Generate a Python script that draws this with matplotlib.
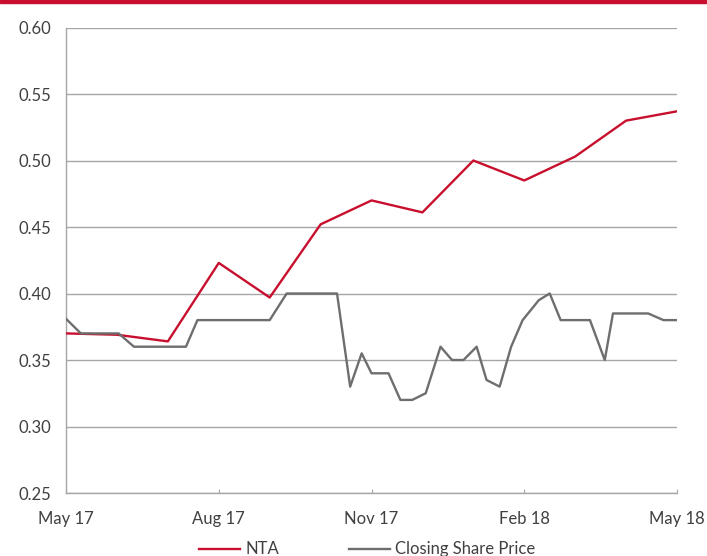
import matplotlib
matplotlib.use("Agg")
import matplotlib.pyplot as plt
import pandas as pd

# --- data ---
nta_dates = ["2017-05-01", "2017-06-01", "2017-07-01", "2017-08-01", "2017-09-01",
             "2017-10-01", "2017-11-01", "2017-12-01", "2018-01-01", "2018-02-01",
             "2018-03-01", "2018-04-01", "2018-05-01"]
nta_values = [0.370, 0.369, 0.364, 0.423, 0.397, 0.452, 0.470, 0.461, 0.500,
              0.485, 0.503, 0.530, 0.537]

price_dates = ["2017-05-01", "2017-05-10", "2017-06-02", "2017-06-11", "2017-07-12",
               "2017-07-19", "2017-09-01", "2017-09-11", "2017-10-11", "2017-10-19",
               "2017-10-26", "2017-11-01", "2017-11-11", "2017-11-18", "2017-11-25",
               "2017-12-03", "2017-12-12", "2017-12-19", "2017-12-26", "2018-01-03",
               "2018-01-09", "2018-01-17", "2018-01-24", "2018-01-31", "2018-02-09",
               "2018-02-15", "2018-02-21", "2018-03-10", "2018-03-19", "2018-03-24",
               "2018-04-14", "2018-04-23", "2018-05-01"]
price_values = [0.381, 0.370, 0.370, 0.360, 0.360, 0.380, 0.380, 0.400, 0.400, 0.330,
                0.355, 0.340, 0.340, 0.320, 0.320, 0.325, 0.360, 0.350, 0.350, 0.360,
                0.335, 0.330, 0.360, 0.380, 0.395, 0.400, 0.380, 0.380, 0.350, 0.385,
                0.385, 0.380, 0.380]

y_ticks = [0.25, 0.30, 0.35, 0.40, 0.45, 0.50, 0.55, 0.60]
x_ticks = ["2017-05-01", "2017-08-01", "2017-11-01", "2018-02-01", "2018-05-01"]

red = "#C8102E"
grey = "#6E6E6E"
grid = "#A6A6A6"
txt = "#404040"


def month_pos(dates):
    # Excel-style date axis with months as base unit: every month same width
    d = pd.to_datetime(pd.Series(dates))
    return ((d.dt.year - 2017) * 12 + d.dt.month - 5
            + (d.dt.day - 1) / d.dt.days_in_month).values


plt.rcParams['font.family'] = ['Lato', 'DejaVu Sans']

fig = plt.figure(figsize=(7.07, 5.56), dpi=100)
ax = fig.add_axes([0.0934, 0.1133, 0.8642, 0.8372])

# red band at the very top
fig.add_artist(plt.Rectangle((0, 0.994), 1, 0.006, transform=fig.transFigure,
                             color=red, zorder=5))

ax.plot(month_pos(nta_dates), nta_values, color=red, lw=1.7, label="NTA", zorder=3)
ax.plot(month_pos(price_dates), price_values, color=grey, lw=1.7,
        label="Closing Share Price", zorder=3)

ax.set_ylim(0.25, 0.60)
ax.set_yticks(y_ticks)
ax.set_yticklabels([f"{v:.2f}" for v in y_ticks])
ax.set_xlim(0, 12)
ax.set_xticks(month_pos(x_ticks))
ax.set_xticklabels([pd.Timestamp(t).strftime("%b %y") for t in x_ticks])

ax.grid(axis="y", color=grid, lw=1.0)
ax.set_axisbelow(True)
for s in ["top", "right"]:
    ax.spines[s].set_visible(False)
for s in ["left", "bottom"]:
    ax.spines[s].set_color(grid)
    ax.spines[s].set_linewidth(1.0)

ax.tick_params(axis="y", length=0, pad=11, labelsize=12, labelcolor=txt)
ax.tick_params(axis="x", direction="in", length=3, color=grid, pad=13,
               labelsize=12, labelcolor=txt)

fig.legend(loc="center left", bbox_to_anchor=(0.270, 0.0117), ncol=2, frameon=False,
           fontsize=12, borderpad=0, handlelength=2.46, handletextpad=0.3,
           columnspacing=4.2, labelcolor=txt)

fig.savefig("out.png", dpi=100)
